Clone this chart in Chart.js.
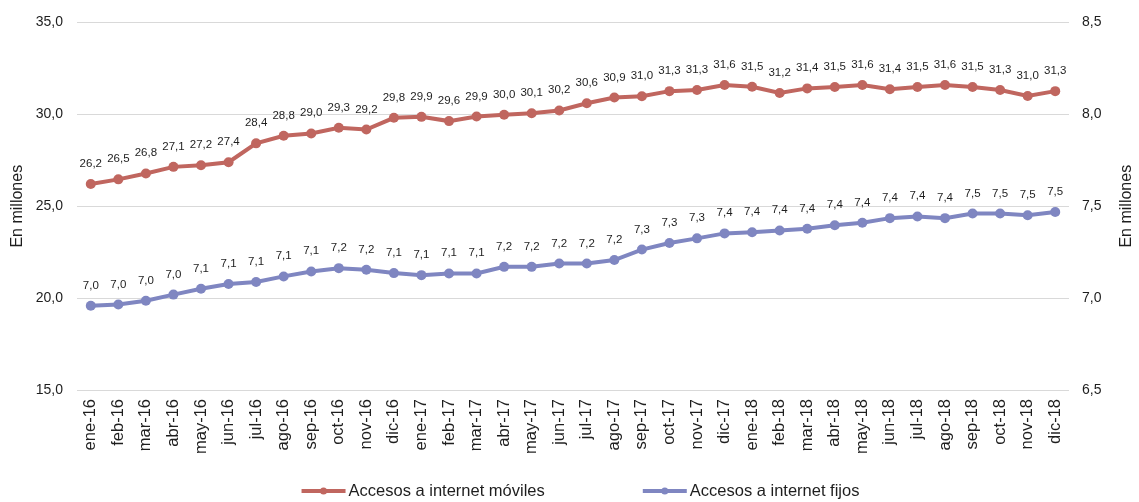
<!DOCTYPE html>
<html><head><meta charset="utf-8">
<script src="https://cdn.jsdelivr.net/npm/chart.js@4.4.0/dist/chart.umd.min.js"></script>
<style>html,body{margin:0;padding:0;background:#fff}#wrap{width:1139px;height:502px}</style>
</head><body><div id="wrap"><canvas id="c" width="1139" height="502"></canvas></div>
<script>
const categories = ['ene-16','feb-16','mar-16','abr-16','may-16','jun-16','jul-16','ago-16','sep-16','oct-16','nov-16','dic-16',
  'ene-17','feb-17','mar-17','abr-17','may-17','jun-17','jul-17','ago-17','sep-17','oct-17','nov-17','dic-17',
  'ene-18','feb-18','mar-18','abr-18','may-18','jun-18','jul-18','ago-18','sep-18','oct-18','nov-18','dic-18'];
const seriesNames = ['Accesos a internet móviles', 'Accesos a internet fijos'];
const movilesValues = [26.21,26.46,26.78,27.14,27.23,27.39,28.42,28.83,28.96,29.27,29.17,29.81,
  29.86,29.63,29.88,29.98,30.06,30.21,30.60,30.91,30.98,31.26,31.32,31.59,
  31.50,31.16,31.41,31.49,31.59,31.36,31.49,31.59,31.49,31.32,31.00,31.26];
const fijosValues = [6.958,6.965,6.986,7.019,7.051,7.077,7.088,7.118,7.145,7.163,7.154,7.136,
  7.125,7.134,7.134,7.170,7.170,7.188,7.188,7.207,7.264,7.300,7.325,7.352,
  7.358,7.368,7.377,7.396,7.410,7.435,7.444,7.435,7.460,7.460,7.451,7.468];
const leftAxisRange = [15, 35, 5];
const rightAxisRange = [6.5, 8.5, 0.5];
const axisTitle = 'En millones';
const seriesColors = ['#c0665f', '#7f86c1'];

const FONT = "'Liberation Sans', Arial, sans-serif";
const TEXT = '#1e1e1e';
const fmt = v => Number(v).toFixed(1).replace('.', ',');

const dataLabels = {
  id: 'dataLabels',
  afterDatasetsDraw(chart) {
    const c = chart.ctx;
    c.save();
    c.font = `11.5px ${FONT}`;
    c.fillStyle = TEXT;
    c.textAlign = 'center';
    c.textBaseline = 'alphabetic';
    chart.data.datasets.forEach((ds, i) => {
      chart.getDatasetMeta(i).data.forEach((pt, j) => {
        c.fillText(fmt(ds.data[j]), pt.x, pt.y - 17);
      });
    });
    c.restore();
  }
};

const axisTitles = {
  id: 'axisTitles',
  afterDraw(chart) {
    const c = chart.ctx;
    const a = chart.chartArea;
    const cy = (a.top + a.bottom) / 2;
    c.save();
    c.font = `16px ${FONT}`;
    c.fillStyle = TEXT;
    c.textAlign = 'center';
    c.textBaseline = 'middle';
    [18, chart.width - 12].forEach(x => {
      c.save();
      c.translate(x, cy);
      c.rotate(-Math.PI / 2);
      c.fillText(axisTitle, 0, 0);
      c.restore();
    });
    c.restore();
  }
};

const bottomLegend = {
  id: 'bottomLegend',
  afterDraw(chart) {
    const c = chart.ctx;
    c.save();
    c.font = `16.5px ${FONT}`;
    const sample = 44, gapText = 3, gapItem = 98;
    const items = chart.data.datasets.map(d => ({ text: d.label, color: d.borderColor, w: c.measureText(d.label).width }));
    const total = items.reduce((s, it) => s + sample + gapText + it.w, 0) + gapItem * (items.length - 1);
    let x = chart.width / 2 + 11 - total / 2;
    const y = 491;
    items.forEach(it => {
      c.strokeStyle = it.color;
      c.fillStyle = it.color;
      c.lineWidth = 4;
      c.beginPath();
      c.moveTo(x, y);
      c.lineTo(x + sample, y);
      c.stroke();
      c.beginPath();
      c.arc(x + sample / 2, y, 3.5, 0, Math.PI * 2);
      c.fill();
      c.fillStyle = TEXT;
      c.textAlign = 'left';
      c.textBaseline = 'middle';
      c.fillText(it.text, x + sample + gapText, y);
      x += sample + gapText + it.w + gapItem;
    });
    c.restore();
  }
};

new Chart(document.getElementById('c'), {
  type: 'line',
  data: {
    labels: categories,
    datasets: [
      { label: seriesNames[0], data: movilesValues, yAxisID: 'y', borderColor: seriesColors[0], backgroundColor: seriesColors[0],
        borderWidth: 4, pointRadius: 5, pointHoverRadius: 5, pointBorderWidth: 0, tension: 0 },
      { label: seriesNames[1], data: fijosValues, yAxisID: 'y1', borderColor: seriesColors[1], backgroundColor: seriesColors[1],
        borderWidth: 4, pointRadius: 5, pointHoverRadius: 5, pointBorderWidth: 0, tension: 0 }
    ]
  },
  options: {
    responsive: false,
    animation: false,
    devicePixelRatio: 1,
    layout: { padding: { top: 20, left: 0, right: 0, bottom: 0 } },
    plugins: { legend: { display: false }, tooltip: { enabled: false } },
    scales: {
      x: {
        offset: true,
        grid: { display: false, drawTicks: false },
        border: { display: false },
        ticks: { autoSkip: false, maxRotation: 90, minRotation: 90, padding: 9, color: TEXT, font: { family: FONT, size: 16.5 } },
        afterFit: s => { s.height = 112; }
      },
      y: {
        position: 'left',
        min: leftAxisRange[0], max: leftAxisRange[1],
        grid: { color: '#d9d9d9', lineWidth: 1, drawTicks: false },
        border: { display: false },
        ticks: { stepSize: leftAxisRange[2], padding: 14, color: TEXT, font: { family: FONT, size: 14 }, callback: v => fmt(v) },
        afterFit: s => { s.width = 77; }
      },
      y1: {
        position: 'right',
        min: rightAxisRange[0], max: rightAxisRange[1],
        grid: { display: false, drawTicks: false },
        border: { display: false },
        ticks: { stepSize: rightAxisRange[2], padding: 13, color: TEXT, font: { family: FONT, size: 14 }, callback: v => fmt(v) },
        afterFit: s => { s.width = 70; }
      }
    }
  },
  plugins: [dataLabels, axisTitles, bottomLegend]
});
</script></body></html>
